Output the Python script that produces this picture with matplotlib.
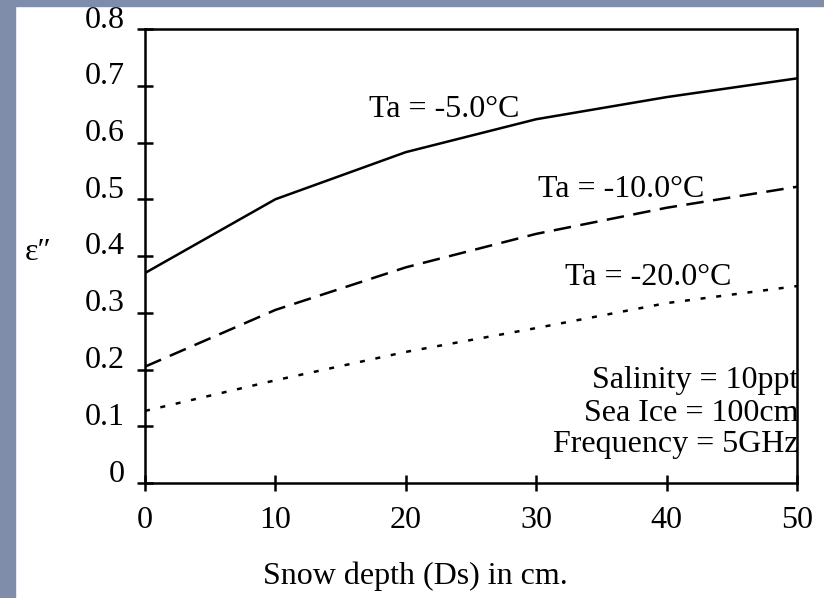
import matplotlib.pyplot as plt
import matplotlib.transforms as mtransforms
from matplotlib.patches import Rectangle

# --- data ---
snow_depth = [0, 10, 20, 30, 40, 50]
eps_m5 = [0.370, 0.500, 0.583, 0.641, 0.680, 0.713]
eps_m10 = [0.205, 0.305, 0.380, 0.439, 0.485, 0.522]
eps_m20 = [0.127, 0.181, 0.231, 0.273, 0.317, 0.347]

curve_labels = ["Ta = -5.0°C", "Ta = -10.0°C", "Ta = -20.0°C"]
label_pos = [(17.2, 0.645), (30.1, 0.5045), (32.2, 0.349)]

info_lines = ["Salinity = 10ppt", "Sea Ice = 100cm", "Frequency = 5GHz"]
info_y = [0.168, 0.109, 0.055]

xticks = [0, 10, 20, 30, 40, 50]
yticks = [0, 0.1, 0.2, 0.3, 0.4, 0.5, 0.6, 0.7, 0.8]
ytick_labels = ["0", "0.1", "0.2", "0.3", "0.4", "0.5", "0.6", "0.7", "0.8"]

plt.rcParams['font.family'] = ['Liberation Serif', 'DejaVu Serif']
fs = 23

fig = plt.figure(figsize=(8.24, 5.98), dpi=100)
ax = fig.add_axes([145 / 824, 1 - 483 / 598, 652 / 824, 454 / 598])

# --- curves ---
ax.plot(snow_depth, eps_m5, color='black', lw=1.8)
ax.plot(snow_depth, eps_m10, color='black', lw=1.8, dashes=(7, 3.8))
ax.plot(snow_depth, eps_m20, color='black', lw=1.8, dashes=(2, 4.3))

for txt, (x, y) in zip(curve_labels, label_pos):
    ax.text(x, y, txt, fontsize=fs, ha='left', va='baseline')

for txt, y in zip(info_lines, info_y):
    ax.text(50.1, y, txt, fontsize=fs, ha='right', va='baseline')

# --- axes ---
ax.set_xlim(0, 50)
ax.set_ylim(0, 0.8)
ax.set_xticks(xticks)
ax.set_yticks(yticks)
ax.set_yticklabels(ytick_labels)
ax.tick_params(direction='inout', length=11, width=1.8, labelsize=fs,
               top=False, right=False)
ax.tick_params(axis='y', pad=9)
ax.tick_params(axis='x', pad=11)
for s in ax.spines.values():
    s.set_linewidth(1.8)

# y tick labels sit a bit above their ticks
shift = mtransforms.ScaledTranslation(0, 9 / 72, fig.dpi_scale_trans)
for lab in ax.get_yticklabels():
    lab.set_transform(lab.get_transform() + shift)

ax.set_xlabel("Snow depth (Ds) in cm.", fontsize=fs)
ax.xaxis.set_label_coords(0.414, -0.174)
ax.set_ylabel("ε″", fontsize=fs, rotation=0, ha='left', va='baseline')
ax.yaxis.set_label_coords(-0.184, 0.491)

# slide-style border on the top and left
border = '#7f8caa'
fig.add_artist(Rectangle((0, 1 - 6 / 598), 1, 6 / 598, transform=fig.transFigure,
                         color=border, zorder=10))
fig.add_artist(Rectangle((0, 0), 15 / 824, 1, transform=fig.transFigure,
                         color=border, zorder=10))

fig.savefig('out.png', dpi=100)
